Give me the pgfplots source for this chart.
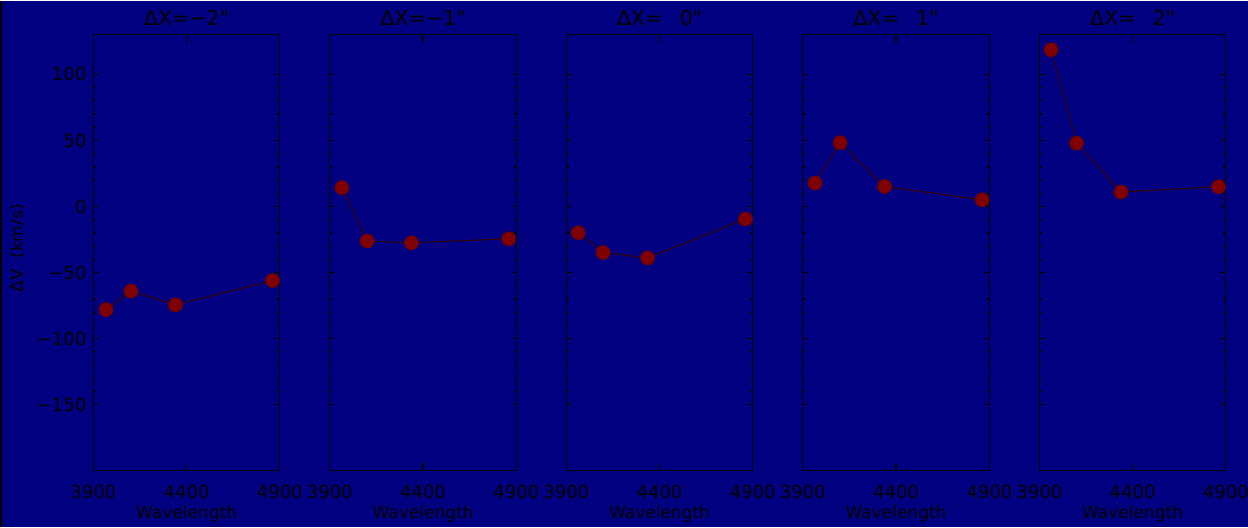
\documentclass[border=0pt]{standalone}
\usepackage{pgfplots}
\pgfplotsset{compat=1.18}
\usepackage{fontspec}
\setmainfont{DejaVu Sans}
\newfontfamily\qfont{DejaVu Sans}
\newcommand{\dq}{{\qfont"}}
\definecolor{bgnavy}{RGB}{0,0,128}
\definecolor{mred}{RGB}{128,0,0}
\pgfplotsset{
  panel/.style={
    scale only axis, width=93.25bp, height=218bp,
    anchor=south west,
    xmin=3900, xmax=4900, ymin=-200, ymax=130,
    xtick={3900,4400,4900}, xticklabels={3900,4400,4900},
    ytick={-150,-100,-50,0,50,100},
    minor y tick num=4,
    axis line style={black, line width=0.6bp},
    tick style={black, line width=0.6bp},
    major tick length=2.7bp, minor tick length=1.3bp,
    xtick style={/pgfplots/major tick length=4bp},
    tick label style={font=\fontsize{9bp}{10bp}\selectfont, text=black},
    xticklabel style={yshift=-3.5bp},
    every axis title shift=0pt,
    title style={font=\fontsize{10.3bp}{12bp}\selectfont, text=black, at={(axis description cs:0.5,1)}, anchor=center, yshift=8.5bp},
    xlabel={Wavelength},
    xlabel style={font=\fontsize{8.5bp}{10bp}\selectfont, text=black, at={(axis description cs:0.5,0)}, anchor=center, yshift=-21.5bp},
  },
  pl/.style={color=mred!45!black, line width=0.5bp, mark=*, mark size=3.5bp, mark options={fill=mred, draw=mred!80!black, line width=0.4bp}},
}
\begin{document}
\begin{tikzpicture}
\fill[bgnavy] (0,0) rectangle (624bp,263bp);
\draw[black, line width=0.8bp] (0.4bp,0) -- (0.4bp,263bp);
\useasboundingbox (0,0) rectangle (624bp,263bp);

\begin{axis}[panel, at={(46.65bp,28bp)},
  title={ΔX=−2\dq},
  yticklabels={−150,−100,−50,0,50,100},
  ylabel={ΔV\ \ (km/s)},
  ylabel style={font=\fontsize{8.5bp}{10bp}\selectfont, text=black, at={(axis description cs:-0.4075,0.51)}, anchor=center}]
\addplot[pl] coordinates {(3968,-78) (4102,-64) (4341,-74.4) (4861,-56)};
\end{axis}

\begin{axis}[panel, at={(164.9bp,28bp)}, title={ΔX=−1\dq}, yticklabels={}]
\addplot[pl] coordinates {(3965,14.3) (4100,-26.1) (4338,-27.4) (4860,-24.4)};
\end{axis}

\begin{axis}[panel, at={(283.15bp,28bp)}, title={ΔX=\phantom{−}0\dq}, yticklabels={}]
\addplot[pl] coordinates {(3964,-19.8) (4097,-34.8) (4336,-38.9) (4861,-9.4)};
\end{axis}

\begin{axis}[panel, at={(401.4bp,28bp)}, title={ΔX=\phantom{−}1\dq}, yticklabels={}]
\addplot[pl] coordinates {(3965,17.8) (4100,48.3) (4338,15.2) (4861,5.1)};
\end{axis}

\begin{axis}[panel, at={(519.65bp,28bp)}, title={ΔX=\phantom{−}2\dq}, yticklabels={}]
\addplot[pl] coordinates {(3963,118.7) (4100,48) (4338,11) (4861,15)};
\end{axis}
\end{tikzpicture}
\end{document}
